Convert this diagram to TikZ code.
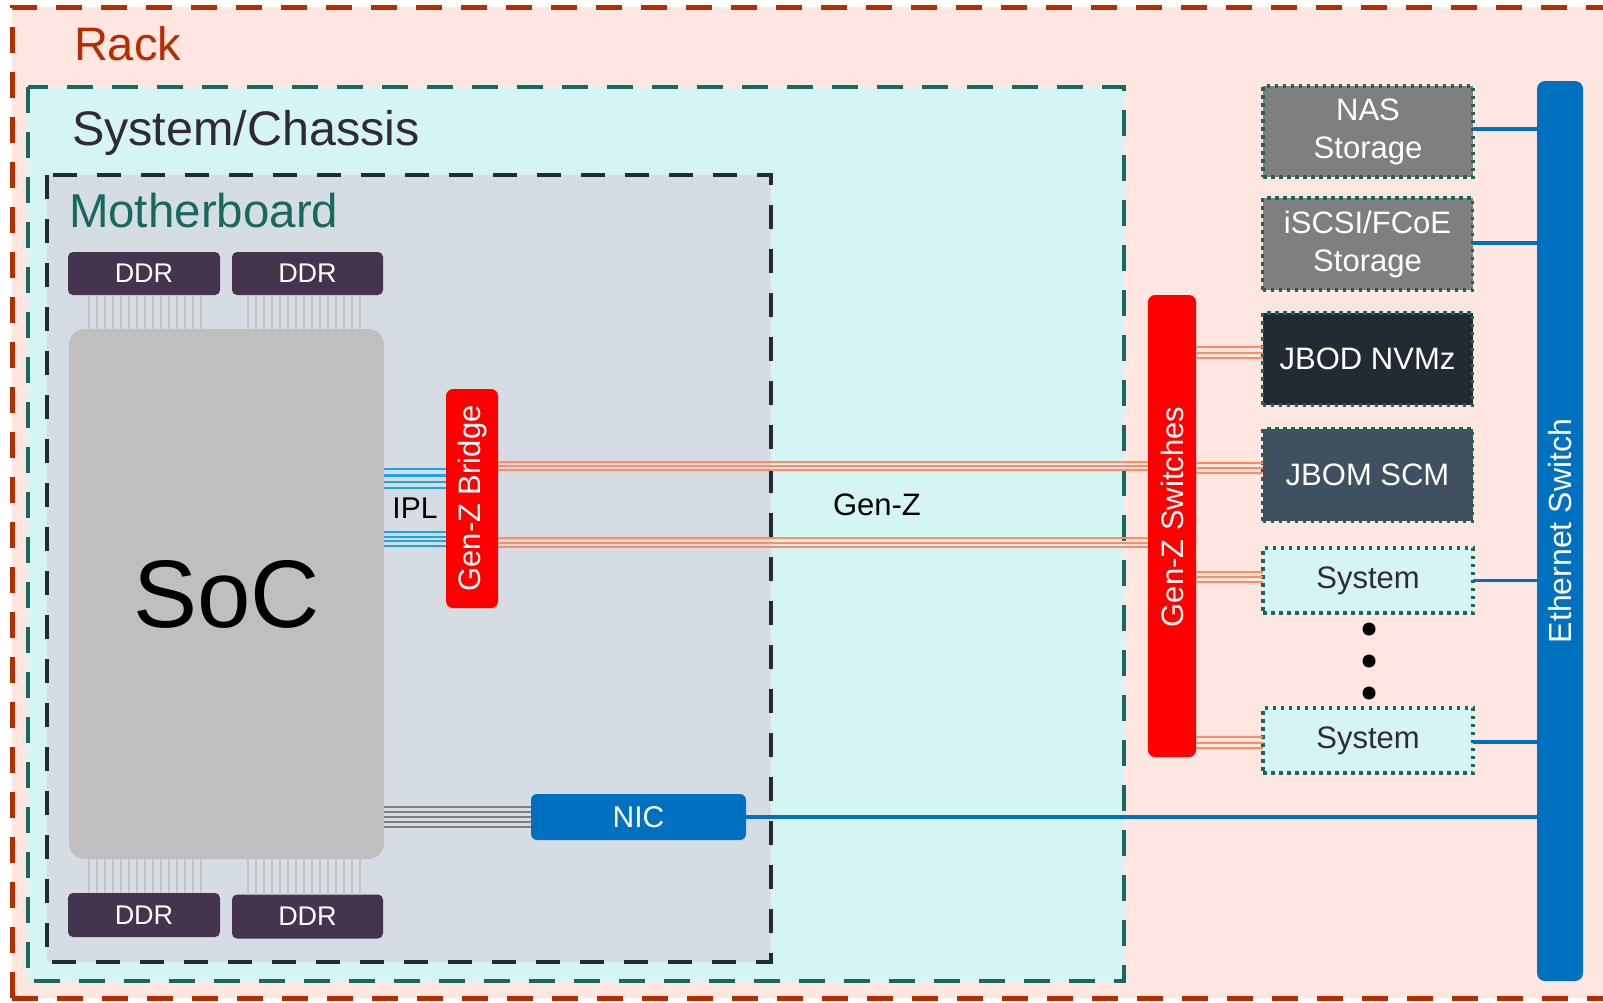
\documentclass[tikz,border=0pt]{standalone}
\usepackage{fontspec}
\setmainfont{Liberation Sans}
\definecolor{rackfill}{HTML}{FFE6E0}
\definecolor{rackline}{HTML}{B52D00}
\definecolor{chfill}{HTML}{D4F5F3}
\definecolor{chline}{HTML}{17695E}
\definecolor{mbfill}{HTML}{D6DCE3}
\definecolor{mbline}{HTML}{222A33}
\definecolor{ddrc}{HTML}{45344D}
\definecolor{socc}{HTML}{BFBFBF}
\definecolor{gzred}{HTML}{FF0000}
\definecolor{ethblue}{HTML}{0070C0}
\definecolor{salmon}{HTML}{FF8A65}
\definecolor{iplblue}{HTML}{1AA5E6}
\definecolor{darktxt}{HTML}{33273A}
\definecolor{nasgray}{HTML}{7F7F7F}
\definecolor{jbodc}{HTML}{222A33}
\definecolor{jbomc}{HTML}{3F5060}
\definecolor{pinc}{HTML}{C4C4C4}
\begin{document}
\begin{tikzpicture}[x=1pt,y=-1pt,
  every node/.style={inner sep=0pt, outer sep=0pt},
  ddrbox/.style={fill=ddrc, rounded corners=5pt, text=white,
    font=\fontsize{27}{30}\selectfont, minimum width=152pt, minimum height=43pt},
  redbar/.style={fill=gzred, rounded corners=7pt},
  bartxt/.style={rotate=90, text=white, font=\fontsize{31}{34}\selectfont},
  stor/.style={draw=chline, line width=3.5pt, dash pattern=on 3.5pt off 4.5pt,
    minimum width=210pt, minimum height=91pt, align=center, text=white,
    font=\fontsize{31}{38}\selectfont},
  pinline/.style={draw=pinc, line width=1.6pt},
  ipl/.style={draw=iplblue, line width=2.2pt},
  gz/.style={draw=salmon, line width=2pt},
  nicl/.style={draw=gray, line width=1.8pt},
  ethl/.style={draw=ethblue, line width=3.2pt},
  bigtxt/.style={font=\fontsize{47}{50}\selectfont, anchor=base west}
]
\useasboundingbox (0,0) rectangle (1603,1002);
\fill[white] (0,0) rectangle (1603,1002);
\begin{scope}
  \clip (0,0) rectangle (1603,1002);
  \fill[rackfill] (12,7) rectangle (1660,998);
  \draw[rackline, line width=5pt, dash pattern=on 26pt off 19pt] (12,998) -- (12,7) -- (1660,7);
  \draw[rackline, line width=5pt, dash pattern=on 26pt off 19pt] (12,998) -- (1660,998);
\end{scope}
% chassis
\fill[chfill] (28,87) rectangle (1124,981);
\draw[chline, line width=4.5pt, dash pattern=on 26pt off 19pt] (28,87) rectangle (1124,981);
% motherboard
\fill[mbfill] (47,175) rectangle (771,962);
\draw[mbline, line width=4.5pt, dash pattern=on 24pt off 20pt] (47,175) rectangle (771,962);

\node[bigtxt, text=rackline] (racklbl) at (74,60) {Rack};
\node[bigtxt, text=darktxt, font=\fontsize{48.5}{50}\selectfont] (chlbl) at (72,145) {System/Chassis};
\node[bigtxt, text=chline, font=\fontsize{47.5}{50}\selectfont] (mblbl) at (69,227) {Motherboard};

% nodes
\node[ddrbox] (ddr1) at (144,273.5) {DDR};
\node[ddrbox, minimum width=151pt] (ddr2) at (307.5,273.5) {DDR};
\node[ddrbox, minimum height=44pt] (ddr3) at (144,915) {DDR};
\node[ddrbox, minimum width=151pt, minimum height=44pt] (ddr4) at (307.5,916.5) {DDR};
\node[fill=socc, rounded corners=16pt, minimum width=315pt, minimum height=530pt,
  font=\fontsize{96}{100}\selectfont] (soc) at (226.5,594) {SoC};
\node[redbar, minimum width=52pt, minimum height=219pt] (bridge) at (472,498.5) {};
\node[bartxt] (bridgelbl) at (bridge.center) {Gen-Z Bridge};
\node[fill=ethblue, rounded corners=6pt, minimum width=215pt, minimum height=46pt,
  text=white, font=\fontsize{30}{32}\selectfont] (nic) at (638.5,817) {NIC};
\node[redbar, minimum width=48pt, minimum height=462pt] (switch) at (1172,526) {};
\node[bartxt] (switchlbl) at (1172,517) {Gen-Z Switches};
\node[fill=ethblue, rounded corners=8pt, minimum width=46pt, minimum height=900pt] (eth) at (1560,531) {};
\node[bartxt, font=\fontsize{32}{34}\selectfont] (ethlbl) at (eth.center) {Ethernet Switch};

\node[stor, fill=nasgray] (nas) at (1368,131.5) {NAS\\Storage};
\node[stor, fill=nasgray, minimum height=92pt] (iscsi) at (1367.5,244) {iSCSI/FCoE\\Storage};
\node[stor, fill=jbodc, minimum height=92pt] (jbod) at (1367.5,359) {JBOD NVMz};
\node[stor, fill=jbomc, minimum height=92pt] (jbom) at (1367.5,475) {JBOM SCM};
\node[stor, fill=chfill, minimum height=65pt, text=darktxt] (sys1) at (1368,580.5) {System};
\node[stor, fill=chfill, minimum height=65pt, text=darktxt] (sys2) at (1368,740.5) {System};
\foreach \yy in {629,661,693}
  \fill[black] (1369,\yy) circle[radius=6.5pt];

% pins DDR-SoC
\foreach \xx in {89,97,...,205} {
  \draw[pinline] (ddr1.south -| \xx,0) -- (soc.north -| \xx,0);
  \draw[pinline] (soc.south -| \xx,0) -- (ddr3.north -| \xx,0);
}
\foreach \xx in {248,256,...,364} {
  \draw[pinline] (ddr2.south -| \xx,0) -- (soc.north -| \xx,0);
  \draw[pinline] (soc.south -| \xx,0) -- (ddr4.north -| \xx,0);
}
% IPL
\foreach \yy in {469,475.5,482,488,532,536.7,541.3,546}
  \draw[ipl] (soc.east |- 0,\yy) -- (bridge.west |- 0,\yy);
\node[font=\fontsize{30}{32}\selectfont] (ipllbl) at (415,508) {IPL};
% Gen-Z links
\foreach \yy in {462,466,470,538,542.5,547}
  \draw[gz] (bridge.east |- 0,\yy) -- (switch.west |- 0,\yy);
\node[font=\fontsize{31}{34}\selectfont] (gzlbl) at (877,505) {Gen-Z};
\foreach \yy in {347,352.5,358}
  \draw[gz] (switch.east |- 0,\yy) -- (jbod.west |- 0,\yy);
\foreach \yy in {463,468,473}
  \draw[gz] (switch.east |- 0,\yy) -- (jbom.west |- 0,\yy);
\foreach \yy in {572,577,582}
  \draw[gz] (switch.east |- 0,\yy) -- (sys1.west |- 0,\yy);
\foreach \yy in {737,742.5,748}
  \draw[gz] (switch.east |- 0,\yy) -- (sys2.west |- 0,\yy);
% NIC
\foreach \yy in {807,812,817,822,827}
  \draw[nicl] (soc.east |- 0,\yy) -- (nic.west |- 0,\yy);
% Ethernet
\draw[ethl] (nic.east) -- (nic.east -| eth.west);
\draw[ethl] (nas.east |- 0,129) -- (eth.west |- 0,129);
\draw[ethl] (iscsi.east |- 0,243) -- (eth.west |- 0,243);
\draw[ethl] (sys1.east) -- (sys1.east -| eth.west);
\draw[ethl] (sys2.east |- 0,742) -- (eth.west |- 0,742);
\end{tikzpicture}
\end{document}
